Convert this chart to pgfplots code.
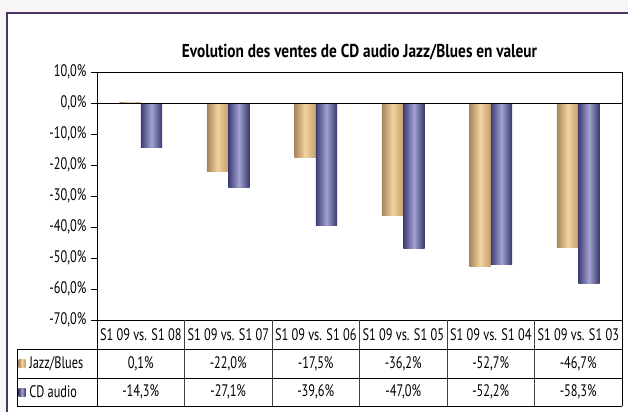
\documentclass[border=0pt]{standalone}
\usepackage{pgfplots}
\pgfplotsset{compat=1.18}
\usepackage{fontspec}
\setmainfont[FakeStretch=0.82]{PT Sans}
\newfontfamily\lf[FakeStretch=0.74]{PT Sans}
\definecolor{frameC}{HTML}{4E3463}
\definecolor{jzL}{HTML}{A8855C}
\definecolor{jzM}{HTML}{F3D39E}
\definecolor{jzR}{HTML}{C49F6E}
\definecolor{cdL}{HTML}{3C3C74}
\definecolor{cdM}{HTML}{A2A2D2}
\definecolor{cdR}{HTML}{36366A}
\newcommand{\tf}{\lf\fontsize{12.5}{13}\selectfont}
\pgfplotsset{
  jz/.style={ybar, draw=none, bar width=0.245, bar shift=-0.1225, left color=jzL, right color=jzR, middle color=jzM},
  cd/.style={ybar, draw=none, bar width=0.245, bar shift=0.1225, left color=cdL, right color=cdR, middle color=cdM},
}
\begin{document}
\begin{tikzpicture}[x=0.75pt,y=0.75pt]
\path[use as bounding box] (0,0) rectangle (628,412);
\fill[fill=frameC!5] (0,0) rectangle (7,412);
\fill[fill=frameC!5] (0,399) rectangle (628,412);
\draw[frameC, line width=0.9pt] (7,0) -- (7,399) -- (629,399);
\node[font=\bfseries\fontsize{14}{15}\selectfont] at (359.5,360) {Evolution des ventes de CD audio Jazz/Blues en valeur};
\begin{axis}[
  at={(72.75pt,69pt)}, anchor=south west,
  scale only axis, width=393.75pt, height=186pt,
  xmin=0.5, xmax=6.5, ymin=-70, ymax=10,
  ytick={-70,-60,...,10},
  yticklabels={{-70,0\%},{-60,0\%},{-50,0\%},{-40,0\%},{-30,0\%},{-20,0\%},{-10,0\%},{0,0\%},{10,0\%}},
  yticklabel style={font=\tf},
  xtick=\empty,
  minor xtick={1.5,2.5,3.5,4.5,5.5},
  xminorgrids=true,
  minor grid style={black!75, line width=0.7pt},
  axis line style={black, line width=0.7pt},
  ytick pos=left, tick align=outside,
  major tick length=4.5pt,
  tick style={black, line width=0.6pt},
  /pgf/number format/assume math mode=true,
]
% Jazz/Blues
\addplot[jz] coordinates {(1,0.1)};
\addplot[jz] coordinates {(2,-22.0)};
\addplot[jz] coordinates {(3,-17.5)};
\addplot[jz] coordinates {(4,-36.2)};
\addplot[jz] coordinates {(5,-52.7)};
\addplot[jz] coordinates {(6,-46.7)};
% CD audio
\addplot[cd] coordinates {(1,-14.3)};
\addplot[cd] coordinates {(2,-27.1)};
\addplot[cd] coordinates {(3,-39.6)};
\addplot[cd] coordinates {(4,-47.0)};
\addplot[cd] coordinates {(5,-52.2)};
\addplot[cd] coordinates {(6,-58.3)};
\addplot[sharp plot, black, line width=0.7pt, forget plot] coordinates {(0.5,0) (6.5,0)};
\end{axis}
% data table
\begin{scope}[line width=0.7pt]
\draw[black] (17,63) -- (622,63);
\draw[black] (17,34) -- (622,34);
\draw[black] (17,6) -- (622,6);
\draw[black] (17,63) -- (17,6);
\foreach \x in {97,622} \draw[black] (\x,92) -- (\x,6);
\foreach \x in {184.5,272,359.5,447,534.5} \draw[black!75] (\x,92) -- (\x,6);
\end{scope}
\foreach \c [count=\i from 0] in {S1 09 vs. S1 08,S1 09 vs. S1 07,S1 09 vs. S1 06,S1 09 vs. S1 05,S1 09 vs. S1 04,S1 09 vs. S1 03}
  \node[font=\tf] at (140.75+87.5*\i,77.5) {\c};
\foreach \v [count=\i from 0] in {{0,1\%},{-22,0\%},{-17,5\%},{-36,2\%},{-52,7\%},{-46,7\%}}
  \node[font=\tf] at (140.75+87.5*\i,48.5) {\v};
\foreach \v [count=\i from 0] in {{-14,3\%},{-27,1\%},{-39,6\%},{-47,0\%},{-52,2\%},{-58,3\%}}
  \node[font=\tf] at (140.75+87.5*\i,20) {\v};
\shade[left color=jzL, right color=jzR, middle color=jzM] (18.5,45) rectangle (25.5,53);
\shade[left color=cdL, right color=cdR, middle color=cdM] (18.5,16) rectangle (25.5,24);
\node[font=\tf, anchor=west, inner sep=0pt] at (29,48.5) {Jazz/Blues};
\node[font=\tf, anchor=west, inner sep=0pt] at (29,20) {CD audio};
\end{tikzpicture}
\end{document}
